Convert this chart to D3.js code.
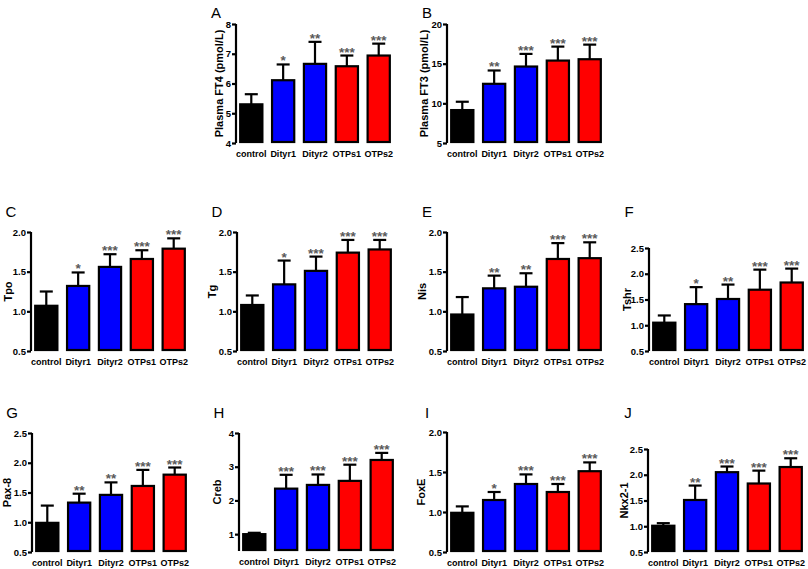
<!DOCTYPE html>
<html><head><meta charset="utf-8">
<script src="https://cdn.jsdelivr.net/npm/d3@7"></script>
<style>
body{margin:0;background:#fff}
svg{display:block;font-family:"Liberation Sans",Arial,sans-serif}
</style>
</head><body>
<svg id="chart" width="808" height="569"></svg>
<script>
// ---------- data ----------
const categories = ["control", "Dityr1", "Dityr2", "OTPs1", "OTPs2"];
const barColors = ["#000000", "#0000ff", "#0000ff", "#ff0000", "#ff0000"];
const panelLetters = ["A", "B", "C", "D", "E", "F", "G", "H", "I", "J"];
const yTitles = ["Plasma FT4 (pmol/L)", "Plasma FT3 (pmol/L)", "Tpo", "Tg", "Nis", "Tshr", "Pax-8", "Creb", "FoxE", "Nkx2-1"];

const meanA = [5.30, 6.11, 6.66, 6.58, 6.94];
const semA  = [0.34, 0.53, 0.74, 0.36, 0.40];
const meanB = [9.15, 12.46, 14.64, 15.39, 15.56];
const semB  = [1.05, 1.68, 1.59, 1.76, 1.84];
const meanC = [1.07, 1.32, 1.56, 1.66, 1.79];
const semC  = [0.18, 0.17, 0.16, 0.11, 0.13];
const meanD = [1.08, 1.34, 1.51, 1.74, 1.78];
const semD  = [0.12, 0.30, 0.18, 0.16, 0.12];
const meanE = [0.96, 1.29, 1.31, 1.66, 1.67];
const semE  = [0.22, 0.16, 0.17, 0.20, 0.20];
const meanF = [1.05, 1.41, 1.51, 1.69, 1.83];
const semF  = [0.14, 0.33, 0.28, 0.39, 0.27];
const meanG = [0.99, 1.33, 1.46, 1.61, 1.80];
const semG  = [0.29, 0.15, 0.21, 0.27, 0.12];
const meanH = [1.00, 2.35, 2.46, 2.58, 3.20];
const semH  = [0.04, 0.41, 0.31, 0.48, 0.21];
const meanI = [0.99, 1.15, 1.35, 1.25, 1.51];
const semI  = [0.08, 0.10, 0.12, 0.10, 0.11];
const meanJ = [1.01, 1.51, 2.05, 1.83, 2.15];
const semJ  = [0.05, 0.28, 0.11, 0.25, 0.17];

const starsA = ["", "*", "**", "***", "***"];
const starsB = ["", "**", "***", "***", "***"];
const starsC = ["", "*", "***", "***", "***"];
const starsD = ["", "*", "***", "***", "***"];
const starsE = ["", "**", "**", "***", "***"];
const starsF = ["", "*", "**", "***", "***"];
const starsG = ["", "**", "**", "***", "***"];
const starsH = ["", "***", "***", "***", "***"];
const starsI = ["", "*", "***", "***", "***"];
const starsJ = ["", "**", "***", "***", "***"];

const domainA = [4, 8],     ticksA = [4, 5, 6, 7, 8];
const domainB = [5, 20],    ticksB = [5, 10, 15, 20];
const domainC = [0.5, 2.0], ticksC = [0.5, 1.0, 1.5, 2.0];
const domainD = [0.5, 2.0], ticksD = [0.5, 1.0, 1.5, 2.0];
const domainE = [0.5, 2.0], ticksE = [0.5, 1.0, 1.5, 2.0];
const domainF = [0.5, 2.5], ticksF = [0.5, 1.0, 1.5, 2.0, 2.5];
const domainG = [0.5, 2.5], ticksG = [0.5, 1.0, 1.5, 2.0, 2.5];
const domainH = [0.5, 4],   ticksH = [1, 2, 3, 4];
const domainI = [0.5, 2.0], ticksI = [0.5, 1.0, 1.5, 2.0];
const domainJ = [0.5, 2.5], ticksJ = [0.5, 1.0, 1.5, 2.0, 2.5];

const tickFormats = ["d", "d", ".1f", ".1f", ".1f", ".1f", ".1f", "d", ".1f", ".1f"];

// ---------- layout ----------
const layout = [
  {ax: 236, top: 24,  bot: 143, tx: 219, ly: 18},
  {ax: 447, top: 24,  bot: 143, tx: 424, ly: 18},
  {ax: 31,  top: 232, bot: 351, tx: 8,   ly: 217},
  {ax: 237, top: 232, bot: 351, tx: 212, ly: 217},
  {ax: 447, top: 232, bot: 351, tx: 422, ly: 217},
  {ax: 649, top: 248, bot: 351, tx: 627, ly: 217},
  {ax: 32,  top: 433, bot: 552, tx: 7,   ly: 418},
  {ax: 239, top: 433, bot: 551, tx: 217, ly: 418},
  {ax: 447, top: 432, bot: 552, tx: 421, ly: 418},
  {ax: 648, top: 449, bot: 552, tx: 624, ly: 418}
];

const means = [meanA, meanB, meanC, meanD, meanE, meanF, meanG, meanH, meanI, meanJ];
const sems = [semA, semB, semC, semD, semE, semF, semG, semH, semI, semJ];
const stars = [starsA, starsB, starsC, starsD, starsE, starsF, starsG, starsH, starsI, starsJ];
const domains = [domainA, domainB, domainC, domainD, domainE, domainF, domainG, domainH, domainI, domainJ];
const ticks = [ticksA, ticksB, ticksC, ticksD, ticksE, ticksF, ticksG, ticksH, ticksI, ticksJ];

const svg = d3.select("#chart");

panelLetters.forEach((letter, i) => {
  const L = layout[i];
  const g = svg.append("g");
  const x = d3.scaleBand().domain(categories).range([L.ax, L.ax + 158])
    .paddingInner(0.24).paddingOuter(0.1);
  const y = d3.scaleLinear().domain(domains[i]).range([L.bot, L.top]);
  const rows = categories.map((c, k) => ({c, k, m: means[i][k], s: sems[i][k], st: stars[i][k]}));

  // error bars
  const eb = g.append("g");
  rows.forEach(d => {
    const cx = x(d.c) + x.bandwidth() / 2;
    eb.append("line").attr("x1", cx).attr("x2", cx)
      .attr("y1", y(d.m)).attr("y2", y(d.m + d.s))
      .attr("stroke", "#000").attr("stroke-width", 2.2);
    eb.append("line").attr("x1", cx - 6.5).attr("x2", cx + 6.5)
      .attr("y1", y(d.m + d.s)).attr("y2", y(d.m + d.s))
      .attr("stroke", "#000").attr("stroke-width", 2.2);
  });

  // bars
  g.selectAll("rect").data(rows).join("rect")
    .attr("x", d => x(d.c) + 1)
    .attr("width", x.bandwidth() - 2)
    .attr("y", d => y(d.m))
    .attr("height", d => y(domains[i][0]) - y(d.m) - 1)
    .attr("fill", d => barColors[d.k])
    .attr("stroke", "#000").attr("stroke-width", 2.2);

  // significance stars
  g.selectAll("text.star").data(rows).join("text").attr("class", "star")
    .attr("x", d => x(d.c) + x.bandwidth() / 2)
    .attr("y", d => y(d.m + d.s) + 1)
    .attr("text-anchor", "middle")
    .attr("font-size", 13.5).attr("font-weight", "bold")
    .attr("fill", "#5a5a5a")
    .text(d => d.st);

  // y axis
  const axis = g.append("g").attr("transform", `translate(${L.ax},0)`)
    .call(d3.axisLeft(y).tickValues(ticks[i]).tickSize(4).tickSizeOuter(0)
      .tickFormat(d3.format(tickFormats[i])));
  axis.select(".domain").attr("stroke-width", 2.2).attr("d", `M0,${L.bot}V${L.top}`);
  axis.selectAll(".tick line").attr("stroke-width", 2.2);
  axis.selectAll(".tick text").attr("font-size", 9.5).attr("font-weight", "bold")
    .attr("font-family", "'Liberation Sans', Arial, sans-serif").attr("x", -5).attr("fill", "#000");

  // x labels
  g.selectAll("text.xl").data(rows).join("text").attr("class", "xl")
    .attr("x", d => x(d.c) + x.bandwidth() / 2)
    .attr("y", L.bot + 14)
    .attr("text-anchor", "middle")
    .attr("font-size", 9).attr("font-weight", "bold")
    .text(d => d.c);

  // y title
  g.append("text")
    .attr("transform", `translate(${L.tx},${(L.top + L.bot) / 2}) rotate(-90)`)
    .attr("text-anchor", "middle").attr("dominant-baseline", "central")
    .attr("font-size", 11).attr("font-weight", "bold")
    .text(yTitles[i]);

  // panel letter
  g.append("text").attr("x", L.ax - 20).attr("y", L.ly)
    .attr("text-anchor", "middle")
    .attr("font-size", 15)
    .text(letter);
});
</script>
</body></html>
